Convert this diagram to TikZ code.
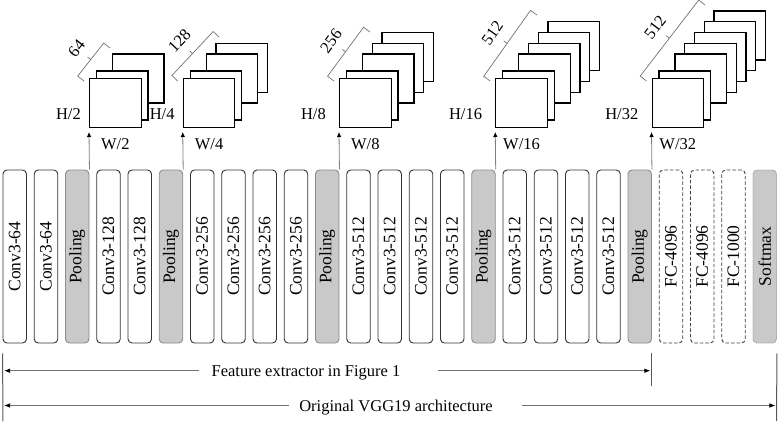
\documentclass[tikz,border=0pt]{standalone}
\usepackage{fontspec}
\usepackage{graphicx}
\setmainfont{Liberation Serif}
\usetikzlibrary{arrows.meta,calc}
\newcommand\fmstack[9]{% #1 id, #2 X, #3 n, #4 count, #5 H, #6 W, #7 Bx, #8 By, #9 H gap
  \pgfmathtruncatemacro\fmtop{#3-1}
  \foreach \k in {\fmtop,...,1}{
    \pgfmathsetmacro\fmdx{\k==1 ? 7.5 : 23.5+9.75*(\k-2)}
    \pgfmathsetmacro\fmdy{\k==1 ? 8 : 25+10.75*(\k-2)}
    \draw[fmsq] (#2+\fmdx, 79-\fmdy) rectangle ++(51.5,49);
  }
  \node[fmsq, minimum width=51.5bp, minimum height=49bp, inner sep=0pt, anchor=south west] (#1) at (#2,128) {};
  \node[anchor=east, inner sep=0pt] at ([xshift=-#9bp,yshift=-11bp]#1.west) {#5};
  \node[inner sep=0pt] at ([yshift=-16bp]#1.south) {#6};
  \coordinate (#1A) at (#2-5,81);
  \coordinate (#1B) at (#7,#8);
  \coordinate (#1M) at ($(#1A)!0.5!(#1B)$);
  \draw[brc] (#1A) -- ($(#1A)!8bp!90:(#1B)$) -- ($(#1M)!8bp!90:(#1B)$) -- ($(#1M)!12bp!90:(#1B)$)
    -- ($(#1M)!8bp!90:(#1B)$) -- ($(#1B)!8bp!-90:(#1A)$) -- (#1B);
  \path ($(#1A)!26bp!90:(#1B)$) -- ($(#1B)!26bp!-90:(#1A)$) node[midway, sloped, inner sep=0pt] {#4};
}
\begin{document}
\begin{tikzpicture}[x=1bp,y=-1bp,
  font=\fontsize{16.5bp}{19bp}\selectfont,
  layer/.style={draw=black!80, line width=0.9bp, rounded corners=4bp, minimum width=23.5bp,
    minimum height=173bp, inner sep=0pt, fill=white, font=\fontsize{17.5bp}{19bp}\selectfont},
  conv/.style={layer},
  pool/.style={layer, fill=black!21, draw=black!45},
  fc/.style={layer, draw=black!75, dash pattern=on 3.5bp off 2bp},
  soft/.style={layer, fill=black!21, draw=black!45, dash pattern=on 1bp off 1bp},
  fmsq/.style={draw=black, line width=1.1bp, fill=white},
  uparr/.style={draw=black!50, line width=0.8bp, -{Latex[length=5bp,width=4.5bp,color=black]}},
  dimarr/.style={draw=black!55, line width=0.8bp, shorten >=1.5bp, -{Latex[length=6bp,width=4.5bp,color=black]}},
  bar/.style={draw=black!65, line width=1bp},
  brc/.style={draw=black!55, line width=0.7bp},
  lbl/.style={inner sep=0pt, text height=11bp, text depth=0pt}
]
\path[use as bounding box, fill=white] (0,0) rectangle (779,421);

\foreach \i/\t/\s in {0/Conv3-64/conv,1/Conv3-64/conv,2/Pooling/pool,3/Conv3-128/conv,4/Conv3-128/conv,
  5/Pooling/pool,6/Conv3-256/conv,7/Conv3-256/conv,8/Conv3-256/conv,9/Conv3-256/conv,10/Pooling/pool,
  11/Conv3-512/conv,12/Conv3-512/conv,13/Conv3-512/conv,14/Conv3-512/conv,15/Pooling/pool,
  16/Conv3-512/conv,17/Conv3-512/conv,18/Conv3-512/conv,19/Conv3-512/conv,20/Pooling/pool,
  21/FC-4096/fc,22/FC-4096/fc,23/FC-1000/fc,24/Softmax/soft}
  \node[\s] (l\i) at (14.75+31.25*\i, 256.5) {\rotatebox{90}{\t}};

\fmstack{f1}{89}{3}{64}{H/2}{W/2}{110}{48}{8}
\fmstack{f2}{182.75}{4}{128}{H/4}{W/4}{219}{37}{8}
\fmstack{f3}{339}{5}{256}{H/8}{W/8}{370}{32}{13}
\fmstack{f4}{495.25}{6}{512}{H/16}{W/16}{537}{15}{13}
\fmstack{f5}{651.5}{7}{512}{H/32}{W/32}{705}{5}{13}

\foreach \p/\f in {2/f1,5/f2,10/f3,15/f4,20/f5}
  \draw[uparr] (l\p.north east) -- ([yshift=-4bp]\f.south west);

\coordinate (L1) at ([yshift=-10bp]l0.south west);
\coordinate (L2) at (3,421);
\coordinate (F1) at ([yshift=-10bp]l20.south east);
\coordinate (F2) at ([yshift=-43bp]l20.south east);
\coordinate (R1) at ([yshift=-10bp]l24.south east);
\coordinate (R2) at (776.5,421);
\draw[bar] (L1) -- (L2);
\draw[bar] (F1) -- (F2);
\draw[bar] (R1) -- (R2);

\node[lbl] (ft) at (306,370.7) {Feature extractor in Figure 1};
\draw[dimarr] ([xshift=-12.5bp]ft.west) -- (ft.west -| L1);
\draw[dimarr] ([xshift=37.5bp]ft.east) -- (ft.east -| F1);

\node[lbl] (vt) at (396,405.5) {Original VGG19 architecture};
\draw[dimarr] ([xshift=-10.5bp]vt.west) -- (vt.west -| L1);
\draw[dimarr] ([xshift=29.5bp]vt.east) -- (vt.east -| R1);
\end{tikzpicture}
\end{document}
